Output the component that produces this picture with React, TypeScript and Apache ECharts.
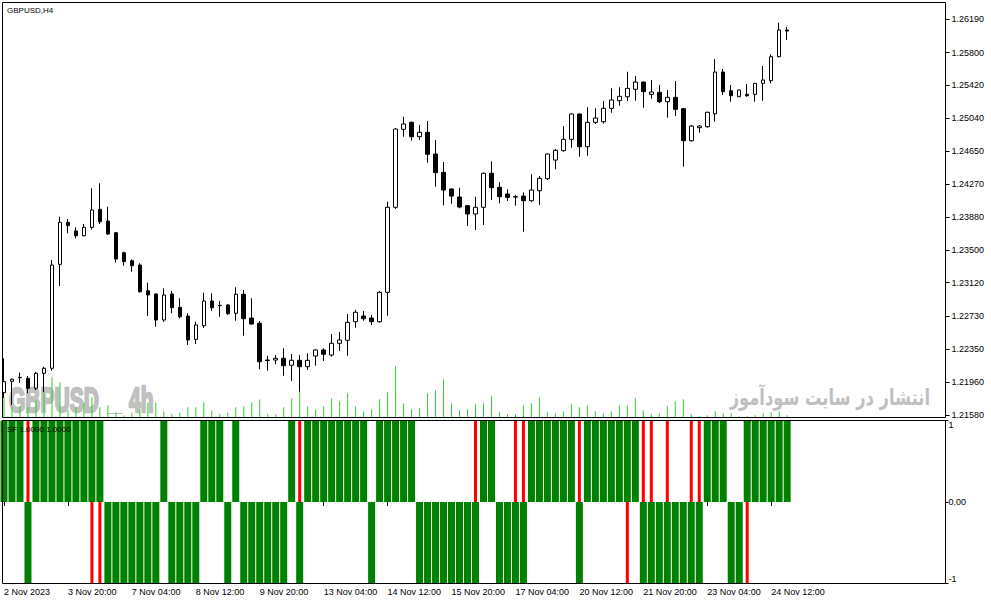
import React, { useEffect, useRef } from 'react';
import * as echarts from 'echarts';

// ---- data (GBPUSD H4, 2 Nov 2023 12:00 .. 24 Nov 2023 20:00) ----
const opens = [
  1.21840, 1.21972, 1.22014, 1.22007, 1.21891, 1.22065, 1.22124, 1.23334, 1.23823, 1.23722,
  1.23667, 1.23765, 1.23975, 1.23838, 1.23702, 1.23469, 1.23376, 1.23326, 1.23027, 1.22989,
  1.22686, 1.22989, 1.22834, 1.22732, 1.22461, 1.22620, 1.22907, 1.22857, 1.22861, 1.22764,
  1.22985, 1.22709, 1.22648, 1.22220, 1.22220, 1.22240, 1.22159, 1.22217, 1.22142, 1.22267,
  1.22337, 1.22278, 1.22415, 1.22450, 1.22666, 1.22732, 1.22709, 1.22666, 1.23008, 1.23998,
  1.24906, 1.24987, 1.24820, 1.24871, 1.24618, 1.24405, 1.24211, 1.24118, 1.24016, 1.23920,
  1.23998, 1.24394, 1.24231, 1.24153, 1.24121, 1.24129, 1.24075, 1.24191, 1.24331, 1.24548,
  1.24657, 1.24789, 1.25084, 1.24703, 1.24987, 1.24994, 1.25150, 1.25239, 1.25285, 1.25372,
  1.25456, 1.25313, 1.25337, 1.25227, 1.25278, 1.25146, 1.24773, 1.24925, 1.24936, 1.25087,
  1.25573, 1.25355, 1.25285, 1.25313, 1.25313, 1.25441, 1.25472, 1.25751, 1.26062,
];
const highs = [
  1.22240, 1.22005, 1.22075, 1.22034, 1.22081, 1.22142, 1.23384, 1.23888, 1.23862, 1.23765,
  1.23803, 1.24219, 1.24277, 1.24005, 1.23710, 1.23481, 1.23393, 1.23346, 1.23120, 1.22994,
  1.23055, 1.23024, 1.22939, 1.22764, 1.22666, 1.23004, 1.22997, 1.22907, 1.22872, 1.23067,
  1.23035, 1.22939, 1.22674, 1.22267, 1.22278, 1.22356, 1.22290, 1.22278, 1.22298, 1.22345,
  1.22356, 1.22523, 1.22546, 1.22756, 1.22802, 1.22791, 1.22744, 1.23024, 1.24063, 1.24921,
  1.25052, 1.24997, 1.24956, 1.25003, 1.24781, 1.24525, 1.24217, 1.24226, 1.24025, 1.24121,
  1.24401, 1.24533, 1.24292, 1.24207, 1.24138, 1.24172, 1.24385, 1.24362, 1.24626, 1.24677,
  1.24944, 1.25092, 1.25090, 1.25162, 1.25150, 1.25235, 1.25383, 1.25395, 1.25576, 1.25526,
  1.25462, 1.25480, 1.25422, 1.25363, 1.25468, 1.25154, 1.24956, 1.24956, 1.25111, 1.25724,
  1.25608, 1.25422, 1.25369, 1.25433, 1.25445, 1.25643, 1.25779, 1.26147, 1.26100,
];
const lows = [
  1.21778, 1.21696, 1.21958, 1.21833, 1.21871, 1.21848, 1.22096, 1.23082, 1.23695, 1.23637,
  1.23658, 1.23739, 1.23803, 1.23675, 1.23353, 1.23318, 1.23248, 1.23004, 1.22733, 1.22608,
  1.22663, 1.22764, 1.22706, 1.22395, 1.22407, 1.22593, 1.22791, 1.22724, 1.22744, 1.22678,
  1.22503, 1.22634, 1.22112, 1.22096, 1.22170, 1.22037, 1.21976, 1.21851, 1.22104, 1.22154,
  1.22209, 1.22259, 1.22325, 1.22270, 1.22596, 1.22678, 1.22628, 1.22654, 1.22736, 1.23978,
  1.24820, 1.24773, 1.24781, 1.24517, 1.24238, 1.24021, 1.24040, 1.23986, 1.23780, 1.23734,
  1.23792, 1.24083, 1.24044, 1.24071, 1.24016, 1.23714, 1.24063, 1.24025, 1.24316, 1.24440,
  1.24645, 1.24692, 1.24587, 1.24599, 1.24968, 1.24971, 1.25099, 1.25181, 1.25235, 1.25239,
  1.25157, 1.25262, 1.25212, 1.25041, 1.25061, 1.24471, 1.24762, 1.24866, 1.24925, 1.24994,
  1.25305, 1.25227, 1.25282, 1.25285, 1.25227, 1.25239, 1.25441, 1.25744, 1.25945,
];
const closes = [
  1.21968, 1.21996, 1.22018, 1.21891, 1.22065, 1.22124, 1.23326, 1.23823, 1.23784, 1.23667,
  1.23765, 1.23966, 1.23830, 1.23687, 1.23396, 1.23365, 1.23318, 1.23015, 1.22977, 1.22686,
  1.22977, 1.22829, 1.22724, 1.22453, 1.22628, 1.22907, 1.22829, 1.22853, 1.22759, 1.22985,
  1.22701, 1.22639, 1.22200, 1.22215, 1.22240, 1.22154, 1.22217, 1.22142, 1.22217, 1.22337,
  1.22287, 1.22415, 1.22453, 1.22659, 1.22776, 1.22701, 1.22666, 1.23008, 1.23998, 1.24909,
  1.24968, 1.24820, 1.24871, 1.24615, 1.24401, 1.24199, 1.24129, 1.24001, 1.23920, 1.23998,
  1.24394, 1.24226, 1.24121, 1.24114, 1.24117, 1.24075, 1.24199, 1.24335, 1.24618, 1.24661,
  1.24789, 1.25084, 1.24703, 1.24987, 1.25037, 1.25150, 1.25247, 1.25290, 1.25383, 1.25456,
  1.25344, 1.25340, 1.25227, 1.25278, 1.25139, 1.24773, 1.24944, 1.24944, 1.25104, 1.25573,
  1.25344, 1.25297, 1.25363, 1.25297, 1.25441, 1.25480, 1.25751, 1.26062, 1.26050,
];
const volumes = [
  3940, 2140, 2260, 2140, 3460, 5260, 8140, 7060, 1460, 2060,
  2940, 4060, 2060, 2460, 1060, 400, 940, 1740, 2940, 2940,
  1260, 740, 940, 2060, 2060, 3060, 1400, 740, 940, 2060,
  2260, 3060, 3600, 740, 600, 2060, 3800, 5260, 2260, 1600,
  2260, 3860, 3260, 4860, 2260, 1260, 1660, 3660, 5060, 10260,
  2860, 1660, 1860, 4860, 5460, 7660, 2860, 1460, 1660, 2660,
  2860, 4260, 1060, 660, 660, 2460, 2860, 4060, 1060, 860,
  1260, 2660, 2060, 2460, 1260, 860, 1260, 2460, 2460, 3860,
  1460, 660, 860, 2260, 3260, 3660, 660, 260, 460, 1260,
  860, 860, 260, 260, 460, 860, 1060, 1260, 460,
];
// SF indicator: +1 above zero, -1 below zero, 0 = empty
const sfGreen = [
  1, 1, 1, -1, 1, 1, 1, 1, 1, 1,
  1, 1, 1, -1, -1, -1, -1, -1, -1, -1,
  1, -1, -1, -1, -1, 1, 1, 1, -1, 1,
  -1, -1, -1, -1, -1, -1, 1, -1, 1, 1,
  1, 1, 1, 1, 1, 1, -1, 1, 1, 1,
  1, 1, -1, -1, -1, -1, -1, -1, -1, -1,
  1, 1, -1, -1, -1, -1, 1, 1, 1, 1,
  1, 1, -1, 1, 1, 1, 1, 1, 1, 1,
  -1, -1, -1, -1, -1, -1, -1, -1, 1, 1,
  1, -1, -1, 1, 1, 1, 1, 1, 1,
];
const sfRed = [
  0, 0, 0, 1, 0, 0, 0, 0, 0, 0,
  0, -1, -1, 0, 0, 0, 0, 0, 0, 0,
  0, 0, 0, 0, 0, 0, 0, 0, 0, 0,
  0, 0, 0, 0, 0, 0, 0, 1, 0, 0,
  0, 0, 0, 0, 0, 0, 0, 0, 0, 0,
  0, 0, 0, 0, 0, 0, 0, 0, 0, 1,
  0, 0, 0, 0, 1, 1, 0, 0, 0, 0,
  0, 0, 1, 0, 0, 0, 0, 0, -1, 0,
  1, 1, 0, 1, 0, 0, 1, 1, 0, 0,
  0, 0, 0, -1, 0, 0, 0, 0, 0,
];
const priceTicks = [
  1.2158, 1.2196, 1.2235, 1.2273, 1.2312, 1.2350, 1.2388,
  1.2427, 1.2465, 1.2504, 1.2542, 1.2580, 1.2619,
];
const sfTicks = [-1, 0, 1];
const xTickLabels = [
  '2 Nov 2023', '3 Nov 20:00', '7 Nov 04:00', '8 Nov 12:00', '9 Nov 20:00',
  '13 Nov 04:00', '14 Nov 12:00', '15 Nov 20:00', '17 Nov 04:00', '20 Nov 12:00',
  '21 Nov 20:00', '23 Nov 04:00', '24 Nov 12:00',
];
const TICK_EVERY = 8;
const SLOTS = 118; // bars + empty space on the right
const PRICE_MIN = 1.215509;
const PRICE_MAX = 1.263821;
const VOLUME_MAX = 83000;

const FONT = 'Liberation Sans';
const WATERMARK = '#c0c0c0';

export default function App() {
  const ref = useRef<HTMLDivElement>(null);

  useEffect(() => {
    if (!ref.current) return;
    const chart = echarts.init(ref.current, undefined, { renderer: 'svg' });

    const categories = Array.from({ length: SLOTS }, (_, i) => String(i));
    const candleData = opens.map((o, i) => [o, closes[i], lows[i], highs[i]]);
    const greenData = sfGreen.map((v) => (v === 0 ? '-' : v));
    const redData = sfRed.map((v) => (v === 0 ? '-' : v));
    const showTick = (idx: number) =>
      idx % TICK_EVERY === 0 && idx / TICK_EVERY < xTickLabels.length;

    const baseX = {
      type: 'category',
      data: categories,
      boundaryGap: true,
      axisLine: { show: false },
      axisTick: { show: false },
      axisLabel: { show: false },
      splitLine: { show: false },
    };

    chart.setOption({
      animation: false,
      backgroundColor: '#ffffff',
      grid: [
        { left: -1, width: 944, top: 2.5, height: 415 },
        { left: -1, width: 944, top: 420.5, height: 163 },
      ],
      xAxis: [
        { ...baseX, gridIndex: 0 },
        {
          ...baseX,
          gridIndex: 1,
          position: 'bottom',
          axisTick: {
            show: true,
            alignWithLabel: true,
            interval: (idx: number) => showTick(idx),
            length: 4,
            lineStyle: { color: '#000', width: 1 },
          },
          axisLabel: {
            show: true,
            interval: (idx: number) => showTick(idx),
            formatter: (_v: string, idx: number) =>
              idx % TICK_EVERY === 0 ? xTickLabels[idx / TICK_EVERY] ?? '' : '',
            align: 'left',
            margin: 4,
            color: '#000',
            fontSize: 9,
            fontFamily: FONT,
          },
        },
        { ...baseX, gridIndex: 1 },
      ],
      yAxis: [
        {
          type: 'value',
          gridIndex: 0,
          position: 'right',
          offset: 2.5,
          min: PRICE_MIN,
          max: PRICE_MAX,
          scale: true,
          axisLine: { show: false },
          splitLine: { show: false },
          axisTick: {
            show: true,
            customValues: priceTicks,
            length: 4,
            lineStyle: { color: '#000' },
          },
          axisLabel: {
            customValues: priceTicks,
            formatter: (v: number) => v.toFixed(5),
            margin: 6,
            color: '#000',
            fontSize: 9,
            fontFamily: FONT,
          },
        },
        {
          type: 'value',
          gridIndex: 0,
          min: 0,
          max: VOLUME_MAX,
          show: false,
          splitLine: { show: false },
        },
        {
          type: 'value',
          gridIndex: 1,
          position: 'right',
          offset: 2.5,
          min: -1,
          max: 1,
          interval: 1,
          axisLine: { show: false },
          splitLine: { show: false },
          axisTick: {
            show: true,
            customValues: sfTicks,
            length: 3,
            lineStyle: { color: '#000' },
          },
          axisLabel: {
            customValues: sfTicks,
            formatter: (v: number) => (v === 0 ? '0.00' : String(v)),
            verticalAlignMaxLabel: 'top',
            verticalAlignMinLabel: 'bottom',
            margin: 3,
            color: '#000',
            fontSize: 9,
            fontFamily: FONT,
          },
        },
      ],
      graphic: [
        {
          type: 'text',
          x: 9,
          y: 399.5,
          z: 0,
          scaleX: 0.6,
          silent: true,
          style: {
            text: 'GBPUSD',
            fill: WATERMARK,
            stroke: WATERMARK,
            lineWidth: 2.5,
            font: 'bold 35px "Liberation Sans"',
            verticalAlign: 'middle',
          },
        },
        {
          type: 'text',
          x: 129,
          y: 399.5,
          z: 0,
          scaleX: 0.6,
          silent: true,
          style: {
            text: '4h',
            fill: WATERMARK,
            stroke: WATERMARK,
            lineWidth: 2.5,
            font: 'bold 35px "Liberation Sans"',
            verticalAlign: 'middle',
          },
        },
        {
          type: 'line',
          z: 0,
          silent: true,
          shape: { x1: 107, y1: 413.5, x2: 123, y2: 413.5 },
          style: { stroke: WATERMARK, lineWidth: 1 },
        },
        {
          type: 'text',
          x: 930,
          y: 398,
          z: 0,
          scaleX: 0.74,
          silent: true,
          style: {
            text: 'انتشار در سایت سودآموز',
            fill: WATERMARK,
            font: 'bold 22px "DejaVu Sans"',
            align: 'right',
            verticalAlign: 'middle',
          },
        },
        {
          type: 'text',
          x: 7,
          y: 10.5,
          z: 50,
          silent: true,
          style: {
            text: 'GBPUSD,H4',
            fill: '#000',
            font: '8px "Liberation Sans"',
            verticalAlign: 'middle',
          },
        },
        {
          type: 'text',
          x: 7,
          y: 429.5,
          z: 50,
          silent: true,
          style: {
            text: 'SF 1.0000 1.0000',
            fill: '#000',
            font: '8px "Liberation Sans"',
            verticalAlign: 'middle',
          },
        },
        {
          type: 'rect',
          z: 50,
          silent: true,
          shape: { x: 2.5, y: 2.5, width: 943, height: 415 },
          style: { fill: 'none', stroke: '#000', lineWidth: 1 },
        },
        {
          type: 'rect',
          z: 50,
          silent: true,
          shape: { x: 2.5, y: 420.5, width: 943, height: 163 },
          style: { fill: 'none', stroke: '#000', lineWidth: 1 },
        },
      ],
      series: [
        {
          name: 'Volume',
          type: 'bar',
          xAxisIndex: 0,
          yAxisIndex: 1,
          data: volumes,
          barWidth: 1,
          itemStyle: { color: '#32cd32' },
          z: 2,
          silent: true,
        },
        {
          name: 'GBPUSD',
          type: 'candlestick',
          xAxisIndex: 0,
          yAxisIndex: 0,
          data: candleData,
          barWidth: 4,
          itemStyle: {
            color: '#ffffff',
            color0: '#000000',
            borderColor: '#000000',
            borderColor0: '#000000',
            borderColorDoji: '#000000',
            borderWidth: 1,
          },
          z: 3,
          silent: true,
        },
        {
          name: 'SF green',
          type: 'bar',
          xAxisIndex: 1,
          yAxisIndex: 2,
          data: greenData,
          barWidth: 7,
          itemStyle: { color: '#008000' },
          z: 2,
          silent: true,
        },
        {
          name: 'SF red',
          type: 'bar',
          xAxisIndex: 2,
          yAxisIndex: 2,
          data: redData,
          barWidth: 3,
          itemStyle: { color: '#ff0000' },
          z: 3,
          silent: true,
        },
      ],
    });

    return () => chart.dispose();
  }, []);

  return (
    <div
      ref={ref}
      style={{ position: 'fixed', left: 0, top: 0, width: 991, height: 605 }}
    />
  );
}
